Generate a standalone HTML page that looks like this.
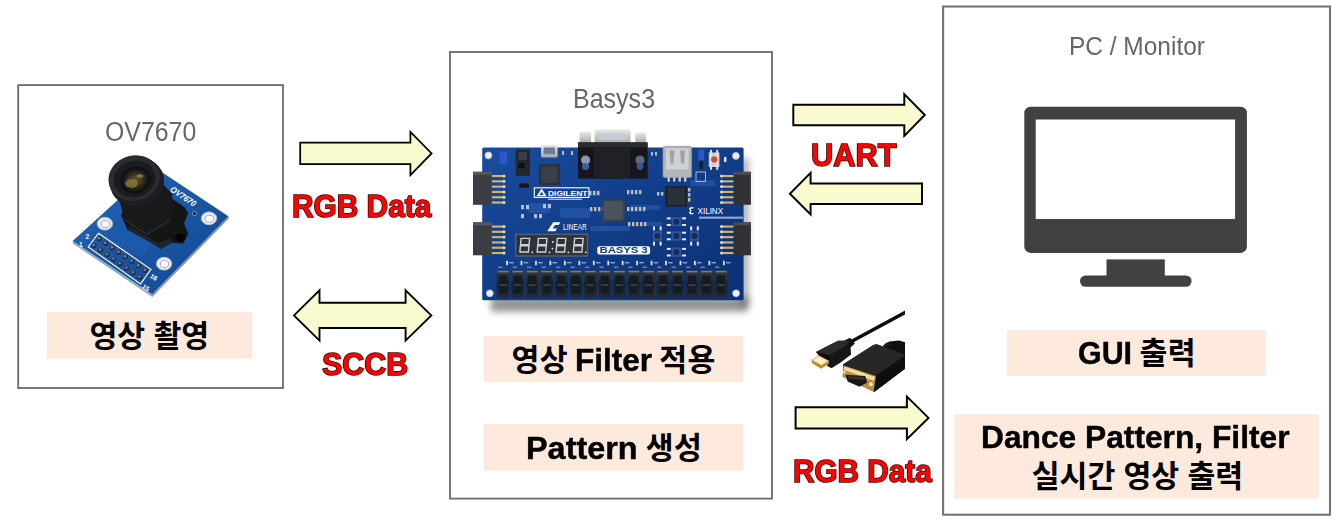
<!DOCTYPE html>
<html lang="ko"><head><meta charset="utf-8"><title>System Block Diagram</title>
<style>
html,body{margin:0;padding:0;background:#fff}
body{width:1343px;height:524px;position:relative;overflow:hidden;font-family:"Liberation Sans",sans-serif}
#g{position:absolute;left:0;top:0}
.t{position:absolute;white-space:nowrap;line-height:1;transform-origin:0 0;display:block}
.cap{color:#676767;font-weight:400}
.blk{color:#000;font-weight:700;-webkit-text-stroke:.45px #000}
.red{color:#f00;font-weight:700;-webkit-text-stroke:1.5px #380000;paint-order:stroke fill}
</style></head><body>
<svg id="g" width="1343" height="524" viewBox="0 0 1343 524">
<rect x="18.2" y="85.1" width="264.8" height="302.9" fill="#fff" stroke="#6b6b6b" stroke-width="1.8"/>
<rect x="450" y="52" width="322" height="446.6" fill="#fff" stroke="#6b6b6b" stroke-width="1.8"/>
<rect x="943.1" y="6.5" width="386.9" height="508.2" fill="#fff" stroke="#747474" stroke-width="2.1"/>
<rect x="46.9" y="311.9" width="205.2" height="46.8" fill="#fdeadd"/>
<rect x="484" y="336" width="259.0" height="45.9" fill="#fdeadd"/>
<rect x="484" y="424" width="259.0" height="46.7" fill="#fdeadd"/>
<rect x="1007" y="330" width="258.8" height="45.9" fill="#fdeadd"/>
<rect x="954.2" y="414.2" width="364.5" height="84.5" fill="#fdeadd"/>
<path d="M300.2 142.6H410.4V131.8L431.6 153.4L410.4 175.0V164.20000000000002H300.2Z" fill="#fafacf" stroke="#000" stroke-width="1.75" stroke-linejoin="miter"/>
<path d="M319.5 302.79999999999995H405.6V290.2L431.3 315.4L405.6 340.59999999999997V328.0H319.5V340.59999999999997L294.0 315.4L319.5 290.2Z" fill="#fafacf" stroke="#000" stroke-width="1.9" stroke-linejoin="miter"/>
<path d="M793.3 104.7H904.3V94.1L924.8 115.0L904.3 135.9V125.3H793.3Z" fill="#fafacf" stroke="#000" stroke-width="1.95" stroke-linejoin="miter"/>
<path d="M922 183.39999999999998H810.6V172.89999999999998L789.9 193.7L810.6 214.5V204.0H922Z" fill="#fafacf" stroke="#000" stroke-width="1.95" stroke-linejoin="miter"/>
<path d="M795.6 407.29999999999995H906.9V396.59999999999997L928.5 417.9L906.9 439.2V428.5H795.6Z" fill="#fafacf" stroke="#000" stroke-width="2.0" stroke-linejoin="miter"/>
<g fill="#414141"><path fill-rule="evenodd" d="M1030.5 106.8H1240.7a6.2 6.2 0 0 1 6.2 6.2V246.7a6.2 6.2 0 0 1-6.2 6.2H1030.5a6.2 6.2 0 0 1-6.2-6.2V113a6.2 6.2 0 0 1 6.2-6.2ZM1035.700 119.400V218.900H1235.100V119.400Z"/><rect x="1106.5" y="259.4" width="58.3" height="18"/><rect x="1080" y="275.4" width="111.6" height="11.4" rx="5.7"/></g>
<g fill="#000" font-family="'Liberation Sans','Noto Sans CJK KR',sans-serif" font-weight="700" font-size="30.3">
<text x="89.5" y="346.85" textLength="119.6" lengthAdjust="spacing">영상 촬영</text>
<text x="511.5" y="370.8" textLength="56.1" lengthAdjust="spacing">영상</text>
<text x="659.3" y="370.8" textLength="56.1" lengthAdjust="spacing">적용</text>
<text x="645.7" y="458.8" textLength="56.1" lengthAdjust="spacing">생성</text>
<text x="1139.4" y="363.7" textLength="56.1" lengthAdjust="spacing">출력</text>
<text x="1031.8" y="487.4" textLength="211.3" lengthAdjust="spacing">실시간 영상 출력</text>
</g>
<defs>
<filter id="bl3" filterUnits="userSpaceOnUse" x="440" y="120" width="340" height="220"><feGaussianBlur stdDeviation="3.6"/></filter>
<filter id="bl1" x="-20%" y="-20%" width="140%" height="140%"><feGaussianBlur stdDeviation="0.6"/></filter>
<linearGradient id="pcb" x1="0" y1="0" x2="1" y2="1"><stop offset="0" stop-color="#1a4c9e"/><stop offset=".5" stop-color="#113d88"/><stop offset="1" stop-color="#0b3074"/></linearGradient>
<linearGradient id="slv" x1="0" y1="0" x2="0" y2="1"><stop offset="0" stop-color="#e9e9e6"/><stop offset="1" stop-color="#a9aaa8"/></linearGradient>
<linearGradient id="sw" x1="0" y1="0" x2="0" y2="1"><stop offset="0" stop-color="#2f3b46"/><stop offset=".5" stop-color="#1a232c"/><stop offset="1" stop-color="#222c36"/></linearGradient>
<linearGradient id="cpcb" x1="0" y1="0" x2="1" y2="1"><stop offset="0" stop-color="#2366bb"/><stop offset="1" stop-color="#114690"/></linearGradient>
<radialGradient id="lens" cx=".5" cy=".5" r=".5"><stop offset="0" stop-color="#6b5a2c"/><stop offset=".45" stop-color="#3b3420"/><stop offset=".8" stop-color="#15161a"/><stop offset="1" stop-color="#0c0c0e"/></radialGradient>
<linearGradient id="barrel" x1="0" y1="0" x2="1" y2="0"><stop offset="0" stop-color="#3a3b3f"/><stop offset=".4" stop-color="#17181a"/><stop offset="1" stop-color="#0a0a0b"/></linearGradient>
<linearGradient id="gold" x1="0" y1="0" x2="0" y2="1"><stop offset="0" stop-color="#f3d78a"/><stop offset="1" stop-color="#b88a2c"/></linearGradient>
</defs>
<g id="basys3"><rect x="491" y="297" width="257" height="14.5" fill="#4a4a4a" opacity=".6" filter="url(#bl3)"/><rect x="740" y="158" width="8.5" height="148" fill="#4a4a4a" opacity=".45" filter="url(#bl3)"/><rect x="482.2" y="147.6" width="261.4" height="152.6" rx="1.5" fill="url(#pcb)"/><g fill="#2b62b4" opacity=".55"><rect x="560" y="190" width="40" height="6" rx="1"/><rect x="590" y="226" width="40" height="5" rx="1"/><rect x="630" y="205" width="30" height="5" rx="1"/><rect x="640" y="222" width="22" height="4" rx="1"/><rect x="528" y="203" width="22" height="10" rx="1"/><rect x="560" y="208" width="30" height="10" rx="1"/><rect x="690" y="180" width="25" height="6" rx="1"/></g><circle cx="488.4" cy="155.4" r="3.4" fill="#f1f1f1" stroke="#b4c2dc" stroke-width="1"/><circle cx="735.9" cy="155.9" r="3.4" fill="#f1f1f1" stroke="#b4c2dc" stroke-width="1"/><circle cx="489.8" cy="293.3" r="3.4" fill="#f1f1f1" stroke="#b4c2dc" stroke-width="1"/><circle cx="736.1" cy="293.3" r="3.4" fill="#f1f1f1" stroke="#b4c2dc" stroke-width="1"/><rect x="473" y="171.8" width="18.8" height="33" fill="#3b3d42"/><rect x="473" y="171.8" width="18.8" height="3" fill="#55585e"/><rect x="491.8" y="175.0" width="12.5" height="2.1" fill="#d6b36a"/><circle cx="504" cy="176.0" r="1.5" fill="#e9d9ae"/><rect x="491.8" y="180.3" width="12.5" height="2.1" fill="#d6b36a"/><circle cx="504" cy="181.3" r="1.5" fill="#e9d9ae"/><rect x="491.8" y="185.6" width="12.5" height="2.1" fill="#d6b36a"/><circle cx="504" cy="186.6" r="1.5" fill="#e9d9ae"/><rect x="491.8" y="190.9" width="12.5" height="2.1" fill="#d6b36a"/><circle cx="504" cy="191.9" r="1.5" fill="#e9d9ae"/><rect x="491.8" y="196.2" width="12.5" height="2.1" fill="#d6b36a"/><circle cx="504" cy="197.2" r="1.5" fill="#e9d9ae"/><rect x="491.8" y="201.5" width="12.5" height="2.1" fill="#d6b36a"/><circle cx="504" cy="202.5" r="1.5" fill="#e9d9ae"/><rect x="473" y="222.3" width="18.8" height="33" fill="#3b3d42"/><rect x="473" y="222.3" width="18.8" height="3" fill="#55585e"/><rect x="491.8" y="225.5" width="12.5" height="2.1" fill="#d6b36a"/><circle cx="504" cy="226.5" r="1.5" fill="#e9d9ae"/><rect x="491.8" y="230.8" width="12.5" height="2.1" fill="#d6b36a"/><circle cx="504" cy="231.8" r="1.5" fill="#e9d9ae"/><rect x="491.8" y="236.1" width="12.5" height="2.1" fill="#d6b36a"/><circle cx="504" cy="237.1" r="1.5" fill="#e9d9ae"/><rect x="491.8" y="241.4" width="12.5" height="2.1" fill="#d6b36a"/><circle cx="504" cy="242.4" r="1.5" fill="#e9d9ae"/><rect x="491.8" y="246.7" width="12.5" height="2.1" fill="#d6b36a"/><circle cx="504" cy="247.7" r="1.5" fill="#e9d9ae"/><rect x="491.8" y="252.0" width="12.5" height="2.1" fill="#d6b36a"/><circle cx="504" cy="253.0" r="1.5" fill="#e9d9ae"/><rect x="733.3" y="171.8" width="17.6" height="33" fill="#303236"/><rect x="733.3" y="171.8" width="17.6" height="3" fill="#4a4d53"/><rect x="721" y="175.0" width="12.5" height="2.1" fill="#d6b36a"/><circle cx="721.5" cy="176.0" r="1.5" fill="#e9d9ae"/><rect x="721" y="180.3" width="12.5" height="2.1" fill="#d6b36a"/><circle cx="721.5" cy="181.3" r="1.5" fill="#e9d9ae"/><rect x="721" y="185.6" width="12.5" height="2.1" fill="#d6b36a"/><circle cx="721.5" cy="186.6" r="1.5" fill="#e9d9ae"/><rect x="721" y="190.9" width="12.5" height="2.1" fill="#d6b36a"/><circle cx="721.5" cy="191.9" r="1.5" fill="#e9d9ae"/><rect x="721" y="196.2" width="12.5" height="2.1" fill="#d6b36a"/><circle cx="721.5" cy="197.2" r="1.5" fill="#e9d9ae"/><rect x="721" y="201.5" width="12.5" height="2.1" fill="#d6b36a"/><circle cx="721.5" cy="202.5" r="1.5" fill="#e9d9ae"/><rect x="733.3" y="222.3" width="17.6" height="33" fill="#303236"/><rect x="733.3" y="222.3" width="17.6" height="3" fill="#4a4d53"/><rect x="721" y="225.5" width="12.5" height="2.1" fill="#d6b36a"/><circle cx="721.5" cy="226.5" r="1.5" fill="#e9d9ae"/><rect x="721" y="230.8" width="12.5" height="2.1" fill="#d6b36a"/><circle cx="721.5" cy="231.8" r="1.5" fill="#e9d9ae"/><rect x="721" y="236.1" width="12.5" height="2.1" fill="#d6b36a"/><circle cx="721.5" cy="237.1" r="1.5" fill="#e9d9ae"/><rect x="721" y="241.4" width="12.5" height="2.1" fill="#d6b36a"/><circle cx="721.5" cy="242.4" r="1.5" fill="#e9d9ae"/><rect x="721" y="246.7" width="12.5" height="2.1" fill="#d6b36a"/><circle cx="721.5" cy="247.7" r="1.5" fill="#e9d9ae"/><rect x="721" y="252.0" width="12.5" height="2.1" fill="#d6b36a"/><circle cx="721.5" cy="253.0" r="1.5" fill="#e9d9ae"/><rect x="499.6" y="151.6" width="7.6" height="12.6" rx="1" fill="#2d56c8"/><rect x="515.6" y="149.4" width="14.4" height="26.4" rx="1" fill="#23262b"/><rect x="518.5" y="152" width="8.6" height="8" fill="#3a3f47"/><rect x="518.5" y="163" width="6" height="5" fill="#0d0e10"/><rect x="541" y="145" width="16.6" height="12.4" rx="1.5" fill="url(#slv)"/><rect x="543.6" y="147.6" width="11.4" height="6.6" rx="1" fill="#6d7f98"/><rect x="539" y="164.1" width="21" height="21" fill="#2c3138"/><rect x="541.5" y="166.6" width="16" height="16" fill="#3a4049"/><rect x="519" y="183.5" width="10" height="4.2" fill="#15171a"/><rect x="534.3" y="187.8" width="54.6" height="9.6" fill="#12408b" stroke="#fff" stroke-width="1.1"/><path d="M536.5 196.2L541.6 188.6L546.7 196.2Z" fill="#fff"/><path d="M539.6 195L541.6 191.8L543.6 195Z" fill="#12408b"/><text x="548" y="195.6" font-family="Liberation Sans,sans-serif" font-weight="700" font-size="7.6" fill="#fff" textLength="39.5" lengthAdjust="spacingAndGlyphs">DIGILENT</text><rect x="548" y="198.6" width="34" height="1.4" fill="#c9d6ee" opacity=".8"/><rect x="521" y="205" width="3" height="4.2" fill="#cfd6e6" opacity=".85"/><rect x="526" y="205" width="3" height="4.2" fill="#cfd6e6" opacity=".85"/><rect x="543" y="204" width="3" height="4.2" fill="#cfd6e6" opacity=".85"/><rect x="548" y="204" width="3" height="4.2" fill="#cfd6e6" opacity=".85"/><rect x="534" y="214" width="3" height="4.2" fill="#cfd6e6" opacity=".85"/><rect x="539" y="214" width="3" height="4.2" fill="#cfd6e6" opacity=".85"/><rect x="521" y="214" width="3" height="4.2" fill="#cfd6e6" opacity=".85"/><rect x="589" y="191" width="2.4" height="4.2" fill="#d8d2c0" opacity=".85"/><rect x="593" y="191" width="2.4" height="4.2" fill="#d8d2c0" opacity=".85"/><rect x="597" y="191" width="2.4" height="4.2" fill="#d8d2c0" opacity=".85"/><rect x="590" y="207" width="2.4" height="4.2" fill="#d8d2c0" opacity=".85"/><rect x="594" y="207" width="2.4" height="4.2" fill="#d8d2c0" opacity=".85"/><rect x="598" y="207" width="2.4" height="4.2" fill="#d8d2c0" opacity=".85"/><rect x="602" y="207" width="2.4" height="4.2" fill="#d8d2c0" opacity=".85"/><rect x="627" y="190" width="2.4" height="4.2" fill="#d8d2c0" opacity=".85"/><rect x="631" y="190" width="2.4" height="4.2" fill="#d8d2c0" opacity=".85"/><rect x="635" y="190" width="2.4" height="4.2" fill="#d8d2c0" opacity=".85"/><rect x="639" y="190" width="2.4" height="4.2" fill="#d8d2c0" opacity=".85"/><rect x="627" y="207" width="2.4" height="4.2" fill="#d8d2c0" opacity=".85"/><rect x="631" y="207" width="2.4" height="4.2" fill="#d8d2c0" opacity=".85"/><rect x="635" y="207" width="2.4" height="4.2" fill="#d8d2c0" opacity=".85"/><rect x="639" y="207" width="2.4" height="4.2" fill="#d8d2c0" opacity=".85"/><rect x="643" y="207" width="2.4" height="4.2" fill="#d8d2c0" opacity=".85"/><rect x="628" y="222" width="2.4" height="4.2" fill="#d8d2c0" opacity=".85"/><rect x="632" y="222" width="2.4" height="4.2" fill="#d8d2c0" opacity=".85"/><rect x="636" y="222" width="2.4" height="4.2" fill="#d8d2c0" opacity=".85"/><rect x="640" y="222" width="2.4" height="4.2" fill="#d8d2c0" opacity=".85"/><rect x="644" y="222" width="2.4" height="4.2" fill="#d8d2c0" opacity=".85"/><rect x="657" y="192" width="2.4" height="3.6" fill="#d8d2c0" opacity=".85"/><rect x="661" y="192" width="2.4" height="3.6" fill="#d8d2c0" opacity=".85"/><rect x="688" y="188" width="2.4" height="3.6" fill="#d8d2c0" opacity=".85"/><rect x="688" y="193" width="2.4" height="3.6" fill="#d8d2c0" opacity=".85"/><rect x="688" y="198" width="2.4" height="3.6" fill="#d8d2c0" opacity=".85"/><rect x="651" y="152" width="2" height="3.6" fill="#d8d2c0" opacity=".85"/><rect x="655" y="152" width="2" height="3.6" fill="#d8d2c0" opacity=".85"/><rect x="562" y="151" width="2" height="4" fill="#d8d2c0" opacity=".85"/><rect x="571" y="151" width="2" height="4" fill="#d8d2c0" opacity=".85"/><rect x="602.3" y="199.5" width="22.4" height="22" fill="#39414c"/><rect x="604" y="201.2" width="19" height="18.6" fill="#4a525d"/><rect x="665.3" y="186.1" width="21.6" height="20.7" fill="#1f2329"/><rect x="667.3" y="188.1" width="17.6" height="16.7" fill="#2c3139"/><rect x="579.6" y="131.8" width="11.4" height="11" rx="1.5" fill="url(#slv)"/><rect x="635.3" y="132.4" width="10.6" height="10.4" rx="1.5" fill="url(#slv)"/><rect x="594.6" y="129.4" width="36" height="14" rx="2.5" fill="url(#slv)"/><rect x="598.5" y="133.4" width="28" height="6.4" rx="1.5" fill="#c6ccd6"/><rect x="578" y="142.4" width="69.6" height="36.2" fill="#16171a"/><rect x="578" y="142.4" width="69.6" height="5" fill="#2a2c31"/><rect x="594" y="147.4" width="36" height="31.2" fill="#1f2126"/><circle cx="585.6" cy="160" r="4.6" fill="#8a97b4"/><circle cx="585.6" cy="166.5" r="3.6" fill="#3f5f9e"/><circle cx="640" cy="160" r="4.6" fill="#5d6780"/><circle cx="640" cy="166.5" r="3.4" fill="#38558f"/><rect x="663" y="146.4" width="28.6" height="31" rx="1.5" fill="#b4b7ba" stroke="#8d9094" stroke-width=".8"/><rect x="666" y="148.4" width="22.6" height="21" fill="#cfd1d3"/><path d="M669.5 150.5h5l-1 13h-3zM680 150.5h5l-1 13h-3z" fill="#9fa3a8"/><rect x="667.5" y="177" width="2.4" height="4.6" fill="#c7c9cb"/><rect x="673" y="177" width="2.4" height="4.6" fill="#c7c9cb"/><rect x="678.5" y="177" width="2.4" height="4.6" fill="#c7c9cb"/><rect x="684" y="177" width="2.4" height="4.6" fill="#c7c9cb"/><rect x="698.3" y="149.4" width="5.8" height="11" rx="1" fill="#2b57cc"/><rect x="699.5" y="161" width="3.4" height="8" fill="#1a1c20"/><rect x="708.8" y="152.5" width="10.6" height="14.5" fill="#cfd3d8"/><rect x="710" y="149.8" width="2" height="20" fill="#dfe2e6"/><rect x="716.2" y="149.8" width="2" height="20" fill="#dfe2e6"/><circle cx="714.2" cy="159.4" r="3.1" fill="#d94a36"/><rect x="724" y="157" width="2.4" height="5" fill="#e6e1d0"/><rect x="696" y="172" width="9.5" height="9.5" fill="none" stroke="#c9d4ea" stroke-width=".8"/><text x="697.5" y="214.3" font-family="Liberation Sans,sans-serif" font-size="9.4" fill="#fff" textLength="25.6" lengthAdjust="spacingAndGlyphs">XILINX</text><path d="M693.5 207.2h-3.4l-1.2 1.5 1.4 2-1.4 2 1.2 1.6h3.4v-1.3h-2.2l-.8-1 1.300-1.300-1.300-1.300.8-.9h2.200z" fill="#fff"/><rect x="699" y="216.6" width="44" height="2.2" fill="#b9c8e6" opacity=".75"/><path d="M547.2 231.2L553.2 222.2H560.5L558.6 225H555L552.6 228.600H557L555.300 231.200Z" fill="#fff"/><text x="563" y="229.6" font-family="Liberation Sans,sans-serif" font-size="9" fill="#fff" textLength="23.6" lengthAdjust="spacingAndGlyphs">LINEAR</text><rect x="515" y="233.7" width="73.2" height="23" fill="#5b6067"/><rect x="516.4" y="235.1" width="70.4" height="20.2" fill="#2f3338"/><path d="M521.1 238.4h8.5l-.5 6.300h-8.500zM520.4 245.700h8.500l-.5 6.300h-8.500z" fill="none" stroke="#cfd2d6" stroke-width="1.4"/><circle cx="532.2" cy="252.3" r=".9" fill="#e3e5e8"/><path d="M538.4 238.4h8.5l-.5 6.300h-8.500zM537.7 245.700h8.500l-.5 6.300h-8.500z" fill="none" stroke="#cfd2d6" stroke-width="1.4"/><circle cx="549.5" cy="252.3" r=".9" fill="#e3e5e8"/><path d="M557.3 238.4h8.5l-.5 6.300h-8.500zM556.6 245.700h8.500l-.5 6.300h-8.500z" fill="none" stroke="#cfd2d6" stroke-width="1.4"/><circle cx="568.4" cy="252.3" r=".9" fill="#e3e5e8"/><path d="M574.6 238.4h8.5l-.5 6.300h-8.500zM573.9 245.700h8.500l-.5 6.300h-8.500z" fill="none" stroke="#cfd2d6" stroke-width="1.4"/><circle cx="585.7" cy="252.3" r=".9" fill="#e3e5e8"/><circle cx="552.8" cy="242" r=".9" fill="#e3e5e8"/><circle cx="552.4" cy="248.600" r=".9" fill="#e3e5e8"/><rect x="597.3" y="246.3" width="52.8" height="8.2" rx="2.2" fill="#fff"/><text x="599.6" y="253.4" font-family="Liberation Sans,sans-serif" font-weight="700" font-size="8.2" fill="#173b7a" textLength="48" lengthAdjust="spacingAndGlyphs">BASYS 3</text><g><rect x="666.8" y="217.4" width="19.2" height="2" fill="#e8eaed"/><rect x="666.8" y="224.0" width="19.2" height="2" fill="#e8eaed"/><rect x="671.1" y="216.5" width="10.6" height="10.4" rx="1.2" fill="#2a55a6"/><rect x="671.1" y="216.5" width="10.6" height="10.4" rx="1.2" fill="none" stroke="#0b2a66" stroke-width=".7"/><circle cx="676.4" cy="221.7" r="3" fill="#1b2a4d"/></g><g transform="rotate(90 657.3 236)"><rect x="647.7" y="231.7" width="19.2" height="2" fill="#e8eaed"/><rect x="647.7" y="238.3" width="19.2" height="2" fill="#e8eaed"/><rect x="652.0" y="230.8" width="10.6" height="10.4" rx="1.2" fill="#2a55a6"/><rect x="652.0" y="230.8" width="10.6" height="10.4" rx="1.2" fill="none" stroke="#0b2a66" stroke-width=".7"/><circle cx="657.3" cy="236" r="3" fill="#1b2a4d"/></g><g><rect x="666.8" y="231.7" width="19.2" height="2" fill="#e8eaed"/><rect x="666.8" y="238.3" width="19.2" height="2" fill="#e8eaed"/><rect x="671.1" y="230.8" width="10.6" height="10.4" rx="1.2" fill="#2a55a6"/><rect x="671.1" y="230.8" width="10.6" height="10.4" rx="1.2" fill="none" stroke="#0b2a66" stroke-width=".7"/><circle cx="676.4" cy="236" r="3" fill="#1b2a4d"/></g><g transform="rotate(90 694.5 236)"><rect x="684.9" y="231.7" width="19.2" height="2" fill="#e8eaed"/><rect x="684.9" y="238.3" width="19.2" height="2" fill="#e8eaed"/><rect x="689.2" y="230.8" width="10.6" height="10.4" rx="1.2" fill="#2a55a6"/><rect x="689.2" y="230.8" width="10.6" height="10.4" rx="1.2" fill="none" stroke="#0b2a66" stroke-width=".7"/><circle cx="694.5" cy="236" r="3" fill="#1b2a4d"/></g><g><rect x="666.8" y="247.9" width="19.2" height="2" fill="#e8eaed"/><rect x="666.8" y="254.5" width="19.2" height="2" fill="#e8eaed"/><rect x="671.1" y="247.0" width="10.6" height="10.4" rx="1.2" fill="#2a55a6"/><rect x="671.1" y="247.0" width="10.6" height="10.4" rx="1.2" fill="none" stroke="#0b2a66" stroke-width=".7"/><circle cx="676.4" cy="252.2" r="3" fill="#1b2a4d"/></g><rect x="506.2" y="260.8" width="1.700" height="4.4" fill="#efe9d6"/><rect x="509.2" y="262" width="4.600" height="1.4" fill="#a9bde2" opacity=".8"/><rect x="498.2" y="266.600" width="4.400" height="1.2" fill="#a9bde2" opacity=".7"/><rect x="520.6" y="260.8" width="1.700" height="4.4" fill="#efe9d6"/><rect x="523.6" y="262" width="4.600" height="1.4" fill="#a9bde2" opacity=".8"/><rect x="512.6" y="266.600" width="4.400" height="1.2" fill="#a9bde2" opacity=".7"/><rect x="535.1" y="260.8" width="1.700" height="4.4" fill="#efe9d6"/><rect x="538.1" y="262" width="4.600" height="1.4" fill="#a9bde2" opacity=".8"/><rect x="527.1" y="266.600" width="4.400" height="1.2" fill="#a9bde2" opacity=".7"/><rect x="549.5" y="260.8" width="1.700" height="4.4" fill="#efe9d6"/><rect x="552.5" y="262" width="4.600" height="1.4" fill="#a9bde2" opacity=".8"/><rect x="541.5" y="266.600" width="4.400" height="1.2" fill="#a9bde2" opacity=".7"/><rect x="564.0" y="260.8" width="1.700" height="4.4" fill="#efe9d6"/><rect x="567.0" y="262" width="4.600" height="1.4" fill="#a9bde2" opacity=".8"/><rect x="556.0" y="266.600" width="4.400" height="1.2" fill="#a9bde2" opacity=".7"/><rect x="578.5" y="260.8" width="1.700" height="4.4" fill="#efe9d6"/><rect x="581.5" y="262" width="4.600" height="1.4" fill="#a9bde2" opacity=".8"/><rect x="570.5" y="266.600" width="4.400" height="1.2" fill="#a9bde2" opacity=".7"/><rect x="592.9" y="260.8" width="1.700" height="4.4" fill="#efe9d6"/><rect x="595.9" y="262" width="4.600" height="1.4" fill="#a9bde2" opacity=".8"/><rect x="584.9" y="266.600" width="4.400" height="1.2" fill="#a9bde2" opacity=".7"/><rect x="607.4" y="260.8" width="1.700" height="4.4" fill="#efe9d6"/><rect x="610.4" y="262" width="4.600" height="1.4" fill="#a9bde2" opacity=".8"/><rect x="599.4" y="266.600" width="4.400" height="1.2" fill="#a9bde2" opacity=".7"/><rect x="621.8" y="260.8" width="1.700" height="4.4" fill="#efe9d6"/><rect x="624.8" y="262" width="4.600" height="1.4" fill="#a9bde2" opacity=".8"/><rect x="613.8" y="266.600" width="4.400" height="1.2" fill="#a9bde2" opacity=".7"/><rect x="636.2" y="260.8" width="1.700" height="4.4" fill="#efe9d6"/><rect x="639.2" y="262" width="4.600" height="1.4" fill="#a9bde2" opacity=".8"/><rect x="628.2" y="266.600" width="4.400" height="1.2" fill="#a9bde2" opacity=".7"/><rect x="650.7" y="260.8" width="1.700" height="4.4" fill="#efe9d6"/><rect x="653.7" y="262" width="4.600" height="1.4" fill="#a9bde2" opacity=".8"/><rect x="642.7" y="266.600" width="4.400" height="1.2" fill="#a9bde2" opacity=".7"/><rect x="665.1" y="260.8" width="1.700" height="4.4" fill="#efe9d6"/><rect x="668.1" y="262" width="4.600" height="1.4" fill="#a9bde2" opacity=".8"/><rect x="657.1" y="266.600" width="4.400" height="1.2" fill="#a9bde2" opacity=".7"/><rect x="679.6" y="260.8" width="1.700" height="4.4" fill="#efe9d6"/><rect x="682.6" y="262" width="4.600" height="1.4" fill="#a9bde2" opacity=".8"/><rect x="671.6" y="266.600" width="4.400" height="1.2" fill="#a9bde2" opacity=".7"/><rect x="694.0" y="260.8" width="1.700" height="4.4" fill="#efe9d6"/><rect x="697.0" y="262" width="4.600" height="1.4" fill="#a9bde2" opacity=".8"/><rect x="686.0" y="266.600" width="4.400" height="1.2" fill="#a9bde2" opacity=".7"/><rect x="708.5" y="260.8" width="1.700" height="4.4" fill="#efe9d6"/><rect x="711.5" y="262" width="4.600" height="1.4" fill="#a9bde2" opacity=".8"/><rect x="700.5" y="266.600" width="4.400" height="1.2" fill="#a9bde2" opacity=".7"/><rect x="723.0" y="260.8" width="1.700" height="4.4" fill="#efe9d6"/><rect x="726.0" y="262" width="4.600" height="1.4" fill="#a9bde2" opacity=".8"/><rect x="715.0" y="266.600" width="4.400" height="1.2" fill="#a9bde2" opacity=".7"/><rect x="496.6" y="270.4" width="13.2" height="27.6" rx="1" fill="url(#sw)"/><rect x="497.8" y="270.900" width="10.800" height="1.500" fill="#a98748" opacity=".85"/><rect x="499.2" y="275.5" width="8" height="18" fill="#141b22"/><rect x="499.6" y="284.5" width="7.2" height="1.200" fill="#4a5560"/><rect x="511.1" y="270.4" width="13.2" height="27.6" rx="1" fill="url(#sw)"/><rect x="512.3" y="270.900" width="10.800" height="1.500" fill="#a98748" opacity=".85"/><rect x="513.7" y="275.5" width="8" height="18" fill="#141b22"/><rect x="514.1" y="284.5" width="7.2" height="1.200" fill="#4a5560"/><rect x="525.6" y="270.4" width="13.2" height="27.6" rx="1" fill="url(#sw)"/><rect x="526.8" y="270.900" width="10.800" height="1.500" fill="#a98748" opacity=".85"/><rect x="528.2" y="275.5" width="8" height="18" fill="#141b22"/><rect x="528.6" y="284.5" width="7.2" height="1.200" fill="#4a5560"/><rect x="540.2" y="270.4" width="13.2" height="27.6" rx="1" fill="url(#sw)"/><rect x="541.4" y="270.900" width="10.800" height="1.500" fill="#a98748" opacity=".85"/><rect x="542.8" y="275.5" width="8" height="18" fill="#141b22"/><rect x="543.2" y="284.5" width="7.2" height="1.200" fill="#4a5560"/><rect x="554.7" y="270.4" width="13.2" height="27.6" rx="1" fill="url(#sw)"/><rect x="555.9" y="270.900" width="10.800" height="1.500" fill="#a98748" opacity=".85"/><rect x="557.3" y="275.5" width="8" height="18" fill="#141b22"/><rect x="557.7" y="284.5" width="7.2" height="1.200" fill="#4a5560"/><rect x="569.2" y="270.4" width="13.2" height="27.6" rx="1" fill="url(#sw)"/><rect x="570.4" y="270.900" width="10.800" height="1.500" fill="#a98748" opacity=".85"/><rect x="571.8" y="275.5" width="8" height="18" fill="#141b22"/><rect x="572.2" y="284.5" width="7.2" height="1.200" fill="#4a5560"/><rect x="583.7" y="270.4" width="13.2" height="27.6" rx="1" fill="url(#sw)"/><rect x="584.9" y="270.900" width="10.800" height="1.500" fill="#a98748" opacity=".85"/><rect x="586.3" y="275.5" width="8" height="18" fill="#141b22"/><rect x="586.7" y="284.5" width="7.2" height="1.200" fill="#4a5560"/><rect x="598.2" y="270.4" width="13.2" height="27.6" rx="1" fill="url(#sw)"/><rect x="599.4" y="270.900" width="10.800" height="1.500" fill="#a98748" opacity=".85"/><rect x="600.8" y="275.5" width="8" height="18" fill="#141b22"/><rect x="601.2" y="284.5" width="7.2" height="1.200" fill="#4a5560"/><rect x="612.8" y="270.4" width="13.2" height="27.6" rx="1" fill="url(#sw)"/><rect x="614.0" y="270.900" width="10.800" height="1.500" fill="#a98748" opacity=".85"/><rect x="615.4" y="275.5" width="8" height="18" fill="#141b22"/><rect x="615.8" y="284.5" width="7.2" height="1.200" fill="#4a5560"/><rect x="627.3" y="270.4" width="13.2" height="27.6" rx="1" fill="url(#sw)"/><rect x="628.5" y="270.900" width="10.800" height="1.500" fill="#a98748" opacity=".85"/><rect x="629.9" y="275.5" width="8" height="18" fill="#141b22"/><rect x="630.3" y="284.5" width="7.2" height="1.200" fill="#4a5560"/><rect x="641.8" y="270.4" width="13.2" height="27.6" rx="1" fill="url(#sw)"/><rect x="643.0" y="270.900" width="10.800" height="1.500" fill="#a98748" opacity=".85"/><rect x="644.4" y="275.5" width="8" height="18" fill="#141b22"/><rect x="644.8" y="284.5" width="7.2" height="1.200" fill="#4a5560"/><rect x="656.3" y="270.4" width="13.2" height="27.6" rx="1" fill="url(#sw)"/><rect x="657.5" y="270.900" width="10.800" height="1.500" fill="#a98748" opacity=".85"/><rect x="658.9" y="275.5" width="8" height="18" fill="#141b22"/><rect x="659.3" y="284.5" width="7.2" height="1.200" fill="#4a5560"/><rect x="670.8" y="270.4" width="13.2" height="27.6" rx="1" fill="url(#sw)"/><rect x="672.0" y="270.900" width="10.800" height="1.500" fill="#a98748" opacity=".85"/><rect x="673.4" y="275.5" width="8" height="18" fill="#141b22"/><rect x="673.8" y="284.5" width="7.2" height="1.200" fill="#4a5560"/><rect x="685.4" y="270.4" width="13.2" height="27.6" rx="1" fill="url(#sw)"/><rect x="686.6" y="270.900" width="10.800" height="1.500" fill="#a98748" opacity=".85"/><rect x="688.0" y="275.5" width="8" height="18" fill="#141b22"/><rect x="688.4" y="284.5" width="7.2" height="1.200" fill="#4a5560"/><rect x="699.9" y="270.4" width="13.2" height="27.6" rx="1" fill="url(#sw)"/><rect x="701.1" y="270.900" width="10.800" height="1.500" fill="#a98748" opacity=".85"/><rect x="702.5" y="275.5" width="8" height="18" fill="#141b22"/><rect x="702.9" y="284.5" width="7.2" height="1.200" fill="#4a5560"/><rect x="714.4" y="270.4" width="13.2" height="27.6" rx="1" fill="url(#sw)"/><rect x="715.6" y="270.900" width="10.800" height="1.500" fill="#a98748" opacity=".85"/><rect x="717.0" y="275.5" width="8" height="18" fill="#141b22"/><rect x="717.4" y="284.5" width="7.2" height="1.200" fill="#4a5560"/></g>
<g id="cam"><polygon points="72.7,240.9 152.2,294.2 228.4,216.3 228.4,218.9 152.2,297.0 72.7,243.5" fill="#93a9c4"/><polygon points="152.2,294.2 228.4,216.3 228.4,218.5 152.2,296.8" fill="#8c9ca6"/><polygon points="72.7,240.9 154.1,166.9 228.4,216.3 152.2,294.2" fill="url(#cpcb)"/><ellipse cx="104.9" cy="223.7" rx="7.6" ry="6.4" fill="#e9edf2" stroke="#b9c2cf" stroke-width="1"/><ellipse cx="105.30000000000001" cy="224.1" rx="4.2" ry="3.500" fill="#fff" stroke="#8f99a8" stroke-width=".8"/><ellipse cx="209" cy="218.3" rx="7.6" ry="6.4" fill="#e9edf2" stroke="#b9c2cf" stroke-width="1"/><ellipse cx="209.4" cy="218.70000000000002" rx="4.2" ry="3.500" fill="#fff" stroke="#8f99a8" stroke-width=".8"/><ellipse cx="164.1" cy="263.7" rx="7.6" ry="6.4" fill="#e9edf2" stroke="#b9c2cf" stroke-width="1"/><ellipse cx="164.5" cy="264.09999999999997" rx="4.2" ry="3.500" fill="#fff" stroke="#8f99a8" stroke-width=".8"/><circle cx="194.5" cy="213.5" r="2" fill="#0d1524" stroke="#b9c2cf" stroke-width=".7"/><polygon points="98.5,233.2 150.9,269.3 140.6,283.9 88.2,246.9" fill="none" stroke="#fff" stroke-width="1.1"/><circle cx="99.2" cy="238.9" r="2.6" fill="#2b3240"/><circle cx="98.8" cy="238.2" r="1.2" fill="#7f8998"/><circle cx="94.1" cy="245.7" r="2.6" fill="#2b3240"/><circle cx="93.7" cy="245.0" r="1.2" fill="#7f8998"/><circle cx="105.8" cy="243.4" r="2.6" fill="#2b3240"/><circle cx="105.3" cy="242.7" r="1.2" fill="#7f8998"/><circle cx="100.6" cy="250.2" r="2.6" fill="#2b3240"/><circle cx="100.2" cy="249.5" r="1.2" fill="#7f8998"/><circle cx="112.3" cy="247.9" r="2.6" fill="#2b3240"/><circle cx="111.9" cy="247.2" r="1.2" fill="#7f8998"/><circle cx="107.2" cy="254.8" r="2.6" fill="#2b3240"/><circle cx="106.8" cy="254.1" r="1.2" fill="#7f8998"/><circle cx="118.9" cy="252.4" r="2.6" fill="#2b3240"/><circle cx="118.5" cy="251.7" r="1.2" fill="#7f8998"/><circle cx="113.7" cy="259.3" r="2.6" fill="#2b3240"/><circle cx="113.3" cy="258.6" r="1.2" fill="#7f8998"/><circle cx="125.4" cy="256.9" r="2.6" fill="#2b3240"/><circle cx="125.0" cy="256.2" r="1.2" fill="#7f8998"/><circle cx="120.2" cy="263.8" r="2.6" fill="#2b3240"/><circle cx="119.8" cy="263.1" r="1.2" fill="#7f8998"/><circle cx="132.0" cy="261.4" r="2.6" fill="#2b3240"/><circle cx="131.6" cy="260.7" r="1.2" fill="#7f8998"/><circle cx="126.8" cy="268.3" r="2.6" fill="#2b3240"/><circle cx="126.4" cy="267.6" r="1.2" fill="#7f8998"/><circle cx="138.5" cy="266.0" r="2.6" fill="#2b3240"/><circle cx="138.1" cy="265.3" r="1.2" fill="#7f8998"/><circle cx="133.3" cy="272.8" r="2.6" fill="#2b3240"/><circle cx="132.9" cy="272.1" r="1.2" fill="#7f8998"/><circle cx="145.1" cy="270.5" r="2.6" fill="#2b3240"/><circle cx="144.7" cy="269.8" r="1.2" fill="#7f8998"/><circle cx="139.9" cy="277.3" r="2.6" fill="#2b3240"/><circle cx="139.5" cy="276.6" r="1.2" fill="#7f8998"/><g stroke="#2a70c8" stroke-width=".7" opacity=".8"><path d="M118.0 243.0L136.0 226.0"/><path d="M121.2 245.1L138.2 227.5"/><path d="M124.4 247.2L140.4 229.0"/><path d="M127.6 249.3L142.6 230.5"/><path d="M130.8 251.4L144.8 232.0"/><path d="M134.0 253.5L147.0 233.5"/><path d="M137.2 255.6L149.2 235.0"/><path d="M140.4 257.7L151.4 236.5"/></g><g fill="#fff" font-family="Liberation Sans,sans-serif" font-weight="700" font-size="6.6"><text x="85.5" y="238.5">2</text><text x="79" y="247">1</text><text transform="translate(149.5 277) rotate(35)">16</text><text transform="translate(141.5 287.500) rotate(35)">15</text></g><text transform="translate(169.6 190.800) rotate(34)" font-family="Liberation Sans,sans-serif" font-weight="700" font-style="italic" font-size="8.6" fill="#fff" textLength="29" lengthAdjust="spacingAndGlyphs">OV7670</text><polygon points="121,215.1 127.3,229.8 145.2,239.3 160.9,248.7 172.5,242.4 183,243.8 188.2,234 184,223.5 188.2,213 184,206.7 171.4,198.3 130,200" fill="#141517"/><ellipse cx="180.2" cy="237.6" rx="5.2" ry="4.2" fill="#050506"/><polygon points="127.3,229.8 145.2,239.3 160.9,248.7 172.5,242.4 170,238 158,243 144,235 130,227" fill="#232427"/><polygon points="119,199 124.5,219.3 146.2,234.5 170.3,220.3 172.4,194.2 150,170" fill="#18191b"/><path d="M124.5 219.3L146.2 234.5L170.3 220.3" fill="none" stroke="#303135" stroke-width="1.2"/><ellipse cx="137" cy="182" rx="27.2" ry="24.6" transform="rotate(-15 137 182)" fill="#1d1e21"/><ellipse cx="134.2" cy="178.2" rx="26" ry="22.6" transform="rotate(-15 134.200 178.200)" fill="#2b2c30"/><ellipse cx="134.600" cy="179" rx="21" ry="18" transform="rotate(-15 134.600 179)" fill="#1a1b1e"/><ellipse cx="135.600" cy="180" rx="15.4" ry="13.2" transform="rotate(-15 135.600 180)" fill="url(#lens)"/><ellipse cx="131.500" cy="183.500" rx="6.4" ry="4.4" fill="#8f7836" opacity=".8"/><ellipse cx="140" cy="176" rx="3.4" ry="1.800" fill="#b9a56a" opacity=".55"/></g>
<g id="cable"><clipPath id="cc"><rect x="805" y="305" width="99.9" height="92"/></clipPath><g clip-path="url(#cc)"><path d="M907.8 311.1L847.7 343.5" stroke="#0d0d0d" stroke-width="3.500" stroke-linecap="round" fill="none"/><polygon points="842.4,341.6 850.0,337.8 854.9,343.5 848.6,349.2" fill="#121212"/><polygon points="816.0,351.9 828.6,345.4 838.2,340.8 850.0,340.8 851.1,354.6 841.0,362.2 831.5,368.3 827.3,366.0 828.6,360.7" fill="#151515"/><polygon points="816.0,351.9 828.6,345.4 838.2,340.8 850.0,340.8 845.8,345.8 829.0,355.3" fill="#2b2b2b"/><polygon points="816.0,351.9 829.0,355.3 828.6,360.7 827.3,366.0" fill="#0c0c0c"/><polygon points="811.4,359.9 818.7,355.3 829.0,360.7 828.6,364.1 821.0,368.7 812.0,363.3" fill="#b98d2f"/><polygon points="811.8,359.9 818.7,355.7 828.6,360.9 821.4,365.2" fill="#f4dfa0"/><polygon points="814.1,360.3 818.9,357.4 825.8,361.0 821.0,363.7" fill="#fff3cf"/><polygon points="882.4,346.2 889.3,341.6 899.2,340.4 906.8,342.9 906.8,357.2 891.6,350.6" fill="#0f0f0f"/><polygon points="883.9,344.3 888.1,342.0 891.9,344.3 888.1,346.9" fill="#1d1d1d"/><polygon points="842.9,364.5 873.4,345.0 876.7,344.3 906.8,355.3 906.8,367.3 874.4,391.9 843.1,376.7" fill="#131313"/><polygon points="842.9,364.5 873.4,345.0 876.7,344.3 906.8,355.3 876.3,375.5" fill="#272727"/><polygon points="876.3,375.5 906.8,354.2 906.8,367.3 874.4,391.6" fill="#0e0e0e"/><polygon points="843.5,365.2 875.9,375.9 873.6,391.6 842.4,376.7" fill="#b88f3a"/><polygon points="844.3,366.4 874.8,376.7 874.0,380.9 843.9,369.8" fill="#f0dba6"/><polygon points="845.4,374.8 865.2,375.9 867.1,382.4 859.5,386.8 847.7,381.6" fill="#171717"/><polygon points="847.7,375.9 863.9,377.1 864.9,380.1 848.6,378.6" fill="#3a3327"/><circle cx="871.0" cy="384.3" r="2" fill="#f3e7c0"/><circle cx="844.3" cy="372.1" r="1.500" fill="#e9d9a8"/></g></g>
</svg>
<span class="t cap" id="t0" style="left:104.62px;top:119.04px;font-size:27.0px;transform:scaleX(0.9212)">OV7670</span>
<span class="t cap" id="t1" style="left:573.29px;top:86.13px;font-size:26.9px;transform:scaleX(0.9304)">Basys3</span>
<span class="t cap" id="t2" style="left:1068.64px;top:33.40px;font-size:26.7px;transform:scaleX(0.9166)">PC / Monitor</span>
<span class="t red" id="t3" style="left:291.98px;top:190.56px;font-size:31px;transform:scaleX(0.9625)">RGB Data</span>
<span class="t red" id="t4" style="left:322.25px;top:349.06px;font-size:31px;transform:scaleX(0.9803)">SCCB</span>
<span class="t red" id="t5" style="left:811.11px;top:140.46px;font-size:31px;transform:scaleX(0.9931)">UART</span>
<span class="t red" id="t6" style="left:792.52px;top:456.26px;font-size:31px;transform:scaleX(0.9586)">RGB Data</span>
<span class="t blk" id="t7" style="left:575.39px;top:343.71px;font-size:32px;transform:scaleX(0.9862)">Filter</span>
<span class="t blk" id="t8" style="left:526.10px;top:431.71px;font-size:32px;transform:scaleX(1.0128)">Pattern</span>
<span class="t blk" id="t9" style="left:1077.84px;top:336.51px;font-size:32px;transform:scaleX(0.9498)">GUI</span>
<span class="t blk" id="t10" style="left:981.21px;top:421.41px;font-size:32px;transform:scaleX(0.9914)">Dance Pattern, Filter</span>
</body></html>
